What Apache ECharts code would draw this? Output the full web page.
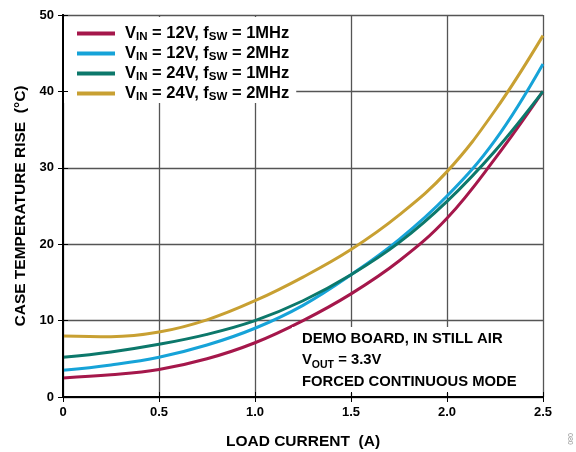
<!DOCTYPE html>
<html>
<head>
<meta charset="utf-8">
<script src="https://cdn.jsdelivr.net/npm/echarts@6/dist/echarts.min.js"></script>
<style>
html,body{margin:0;padding:0;background:#fff;}
#c{width:576px;height:452px;}
</style>
</head>
<body>
<div id="c"></div>
<script>
// ---- data ----
const loadCurrent = [0, 0.25, 0.5, 0.75, 1.0, 1.25, 1.5, 1.75, 2.0, 2.25, 2.5];
const rise12V1M = [2.5, 2.9, 3.6, 5.0, 7.1, 10.0, 13.5, 17.8, 23.4, 31.2, 40.0];
const rise12V2M = [3.5, 4.2, 5.2, 6.8, 9.0, 12.0, 16.0, 20.6, 26.3, 33.6, 43.6];
const rise24V1M = [5.2, 5.9, 6.9, 8.2, 10.0, 12.6, 16.0, 20.2, 25.6, 32.2, 40.0];
const rise24V2M = [8.0, 7.9, 8.5, 10.1, 12.6, 15.7, 19.3, 23.8, 29.5, 37.5, 47.3];
const seriesNames = ['VIN = 12V, fSW = 1MHz', 'VIN = 12V, fSW = 2MHz', 'VIN = 24V, fSW = 1MHz', 'VIN = 24V, fSW = 2MHz'];
const legendRich = ['V{sub|IN} = 12V, f{sub|SW} = 1MHz', 'V{sub|IN} = 12V, f{sub|SW} = 2MHz', 'V{sub|IN} = 24V, f{sub|SW} = 1MHz', 'V{sub|IN} = 24V, f{sub|SW} = 2MHz'];
const xTickLabels = ['0', '0.5', '1.0', '1.5', '2.0', '2.5'];
const yTickLabels = ['0', '10', '20', '30', '40', '50'];
const xTitle = 'LOAD CURRENT  (A)';
const yTitle = 'CASE TEMPERATURE RISE  (°C)';
const noteLines = ['DEMO BOARD, IN STILL AIR', 'V{sub|OUT} = 3.3V', 'FORCED CONTINUOUS MODE'];
const colors = ['#a5174b', '#16a3d8', '#0c786b', '#c8a032'];

const allSeries = [rise12V1M, rise12V2M, rise24V1M, rise24V2M];

const chart = echarts.init(document.getElementById('c'), null, {renderer: 'canvas'});
const font = 'Liberation Sans, Arial, Helvetica, sans-serif';
const gridBox = {left: 63, right: 33, top: 15, bottom: 55, containLabel: false, outerBoundsMode: 'none'};
const tickAxis = (pos) => ({
  gridIndex: 1, type: 'value', position: pos, min: 0, z: 10,
  axisLine: {show: true, lineStyle: {color: '#000', width: 2}},
  axisTick: {show: true, inside: true, length: 5, lineStyle: {color: '#000', width: 1}},
  axisLabel: {show: false}, splitLine: {show: false}
});

const option = {
  animation: false,
  backgroundColor: '#fff',
  textStyle: {fontFamily: font},
  grid: [Object.assign({}, gridBox), Object.assign({}, gridBox)],
  xAxis: [
    {
      gridIndex: 0, type: 'value', min: 0, max: 2.5, interval: 0.5,
      name: xTitle, nameLocation: 'middle', nameGap: 37,
      nameTextStyle: {color: '#000', fontWeight: 'bold', fontSize: 15.5, fontFamily: font},
      axisLine: {show: false}, axisTick: {show: false},
      axisLabel: {color: '#000', fontWeight: 'bold', fontSize: 13, margin: 9, fontFamily: font,
        formatter: (v) => xTickLabels[Math.round(v / 0.5)]},
      splitLine: {show: true, lineStyle: {color: '#555', width: 1.3}}
    },
    Object.assign(tickAxis('bottom'), {max: 2.5, interval: 0.5}),
    Object.assign(tickAxis('top'), {max: 2.5, interval: 0.5})
  ],
  yAxis: [
    {
      gridIndex: 0, type: 'value', min: 0, max: 50, interval: 10,
      name: yTitle, nameLocation: 'middle', nameGap: 34, nameRotate: 90,
      nameTextStyle: {color: '#000', fontWeight: 'bold', fontSize: 15.5, fontFamily: font},
      axisLine: {show: false}, axisTick: {show: false},
      axisLabel: {color: '#000', fontWeight: 'bold', fontSize: 13, margin: 9, fontFamily: font,
        formatter: (v) => yTickLabels[Math.round(v / 10)]},
      splitLine: {show: true, lineStyle: {color: '#555', width: 1.3}}
    },
    Object.assign(tickAxis('left'), {max: 50, interval: 10}),
    Object.assign(tickAxis('right'), {max: 50, interval: 10})
  ],
  legend: {
    orient: 'vertical', left: 64, top: 17,
    backgroundColor: '#fff',
    padding: [7, 7, 0, 13],
    itemGap: 1,
    itemWidth: 38, itemHeight: 4,
    icon: 'rect',
    data: seriesNames,
    formatter: (name) => legendRich[seriesNames.indexOf(name)],
    textStyle: {
      color: '#000', fontWeight: 'bold', fontSize: 16.5, fontFamily: font, lineHeight: 19,
      padding: [0, 0, 0, 5],
      rich: {sub: {fontSize: 11.5, fontWeight: 'bold', fontFamily: font, verticalAlign: 'bottom', lineHeight: 19}}
    }
  },
  graphic: [
    {
      type: 'rect', z: 5, left: 292, top: 327,
      shape: {width: 248, height: 66},
      style: {fill: '#fff'}
    },
    {
      type: 'text', z: 6, left: 302, top: 328,
      style: {
        text: noteLines.join('\n'),
        font: 'bold 14.8px ' + font, fill: '#000', lineHeight: 21.5,
        rich: {sub: {font: 'bold 10.5px ' + font, verticalAlign: 'bottom', lineHeight: 21.5, fill: '#000'}}
      }
    },
    {
      type: 'text', z: 6, left: 566, top: 433, rotation: -Math.PI / 2,
      style: {text: '080', font: '7px ' + font, fill: '#999'}
    }
  ],
  series: allSeries.map((vals, i) => ({
    name: seriesNames[i], type: 'line', xAxisIndex: 0, yAxisIndex: 0,
    smooth: 0.4, showSymbol: false, symbol: 'none',
    lineStyle: {color: colors[i], width: 3},
    itemStyle: {color: colors[i]},
    data: loadCurrent.map((x, k) => [x, vals[k]])
  }))
};
chart.setOption(option);
</script>
</body>
</html>
